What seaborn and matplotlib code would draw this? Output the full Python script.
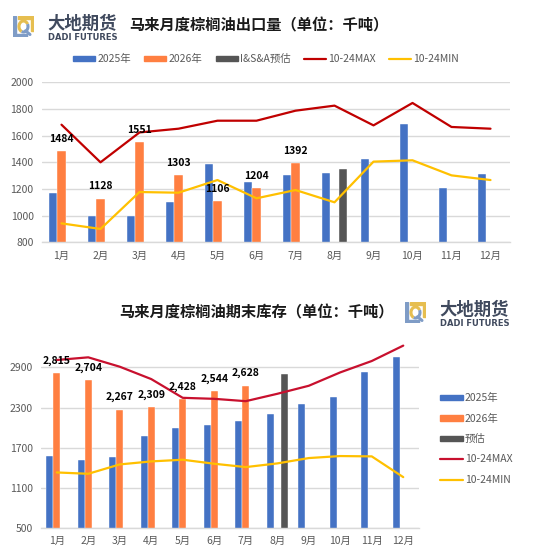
import numpy as np
import pandas as pd
import matplotlib
matplotlib.use("Agg")
import matplotlib.pyplot as plt
import matplotlib.patches as mpatches
from matplotlib.lines import Line2D
import seaborn as sns

sns.set_theme(style="white")
plt.rcParams['font.family'] = ['Noto Sans CJK SC', 'DejaVu Sans']

months = ["1月", "2月", "3月", "4月", "5月", "6月", "7月", "8月", "9月", "10月", "11月", "12月"]

# ---- Export data (top) ----
exp_2025 = [1170, 1000, 1000, 1100, 1385, 1255, 1307, 1320, 1422, 1690, 1207, 1312]
exp_2026 = [1484, 1128, 1551, 1303, 1106, 1204, 1392, None, None, None, None, None]
exp_est = [None, None, None, None, None, None, None, 1347, None, None, None, None]
exp_max = [1682, 1400, 1624, 1652, 1712, 1712, 1787, 1825, 1677, 1845, 1665, 1652]
exp_min = [942, 900, 1177, 1172, 1267, 1130, 1192, 1100, 1405, 1415, 1302, 1267]

# ---- Inventory data (bottom) ----
inv_2025 = [1575, 1515, 1555, 1875, 1990, 2035, 2105, 2200, 2355, 2460, 2835, 3050]
inv_2026 = [2815, 2704, 2267, 2309, 2428, 2544, 2628, None, None, None, None, None]
inv_est = [None, None, None, None, None, None, None, 2805, None, None, None, None]
inv_max = [3010, 3050, 2910, 2725, 2445, 2430, 2395, 2505, 2625, 2825, 2995, 3225]
inv_min = [1330, 1310, 1450, 1495, 1520, 1460, 1410, 1465, 1545, 1575, 1570, 1260]

top_series = ["2025年", "2026年", "I&S&A预估"]
bot_series = ["2025年", "2026年", "预估"]

BLUE = "#4472C4"
ORANGE = "#FF7F41"
DARK = "#555555"
RED_TOP = "#C00000"
RED_BOT = "#C8102E"
GOLD = "#FFC000"
GRID = "#D9D9D9"
TXT = "#595959"


def long_df(names, arrays):
    rows = []
    for name, arr in zip(names, arrays):
        for m, v in zip(months, arr):
            if v is not None:
                rows.append({"month": m, "series": name, "value": v})
    return pd.DataFrame(rows)


W, H = 550, 558
fig = plt.figure(figsize=(W / 100, H / 100), dpi=100)
fig.patch.set_facecolor("white")


def fx(px):
    return px / W


def fy(py):
    return 1 - py / H


def style_axes(ax, ymin, ymax, ticks):
    ax.set_ylim(ymin, ymax)
    ax.set_yticks(ticks)
    ax.set_xlim(-0.5, 11.5)
    ax.grid(axis="y", color=GRID, linewidth=1.0)
    ax.set_axisbelow(True)
    for s in ["top", "right", "left"]:
        ax.spines[s].set_visible(False)
    ax.spines["bottom"].set_color(GRID)
    ax.spines["bottom"].set_linewidth(1.0)
    ax.tick_params(axis="both", length=0, labelsize=7.5, colors=TXT, pad=6)
    ax.set_xlabel("")
    ax.set_ylabel("")
    leg = ax.get_legend()
    if leg is not None:
        leg.remove()


LOGO_BLUE = "#7F9CC6"
LOGO_GOLD = "#E6BE50"


def draw_logo(x0, y0):
    # x0, y0: top-left of icon in pixels; icon ~21x21 px
    ax_l = fig.add_axes([fx(x0), fy(y0 + 21), fx(21), 21 / H])
    ax_l.set_xlim(0, 21)
    ax_l.set_ylim(0, 21)
    ax_l.axis("off")
    ax_l.add_patch(mpatches.Polygon([[0, 21], [3, 21], [3, 3], [14, 3], [14, 0], [0, 0]],
                                    closed=True, color=LOGO_BLUE))
    ax_l.add_patch(mpatches.Polygon([[5, 21], [21, 21], [21, 6], [18, 6], [18, 18], [5, 18]],
                                    closed=True, color=LOGO_GOLD))
    ax_l.add_patch(mpatches.Arc((10.5, 10.5), 9, 11, theta1=30, theta2=250, lw=2.2, color=LOGO_GOLD))
    ax_l.add_patch(mpatches.Arc((10.5, 10.5), 9, 11, theta1=250, theta2=390, lw=2.2, color=LOGO_BLUE))
    ax_l.plot([12.5, 17], [6.2, 2.5], color=LOGO_BLUE, lw=2.2)
    fig.text(fx(x0 + 34), fy(y0 + 8), "大地期货", fontsize=12.5, fontweight="bold",
             color="#404A5E", va="center", ha="left")
    fig.text(fx(x0 + 35), fy(y0 + 22), "DADI FUTURES", fontsize=6.0, fontweight="bold",
             color="#404A5E", va="center", ha="left", family=["DejaVu Sans"])


# ================= TOP CHART =================
ax1 = fig.add_axes([fx(42), fy(242.3), fx(510) - fx(42), fy(82.3) - fy(242.3)])
df_top = long_df(top_series, [exp_2025, exp_2026, exp_est])
sns.barplot(data=df_top, x="month", y="value", hue="series", order=months,
            hue_order=top_series, palette=[BLUE, ORANGE, DARK], width=0.66,
            errorbar=None, ax=ax1, saturation=1, edgecolor="white", linewidth=0.3)
xpos = np.arange(len(months))
sns.lineplot(x=xpos, y=exp_max, color=RED_TOP, linewidth=1.6, ax=ax1)
sns.lineplot(x=xpos, y=exp_min, color=GOLD, linewidth=1.6, ax=ax1)
style_axes(ax1, 800, 2000, [800, 1000, 1200, 1400, 1600, 1800, 2000])
ax1.set_xticks(xpos)
ax1.set_xticklabels(months)
for i, v in enumerate(exp_2026):
    if v is not None:
        ax1.annotate(f"{v}", (i, v), xytext=(0, 9), textcoords="offset points",
                     ha="center", va="center", fontsize=7.5, fontweight="bold", color="black")

handles_top = [
    mpatches.Patch(color=BLUE, label="2025年"),
    mpatches.Patch(color=ORANGE, label="2026年"),
    mpatches.Patch(color=DARK, label="I&S&A预估"),
    Line2D([], [], color=RED_TOP, lw=1.6, label="10-24MAX"),
    Line2D([], [], color=GOLD, lw=1.6, label="10-24MIN"),
]
fig.legend(handles=handles_top, loc="center", bbox_to_anchor=(fx(266), fy(59)), ncol=5,
           frameon=False, fontsize=7.5, labelcolor=TXT, handlelength=2.1, handleheight=0.45,
           handletextpad=0.2, columnspacing=1.3, borderpad=0, borderaxespad=0)

fig.text(fx(259), fy(25), "马来月度棕榈油出口量（单位：千吨）", fontsize=11, fontweight="bold",
         color="#1a1a1a", ha="center", va="center")
draw_logo(13, 16)

# ================= BOTTOM CHART =================
ax2 = fig.add_axes([fx(41), fy(528), fx(419) - fx(41), fy(340.6) - fy(528)])
df_bot = long_df(bot_series, [inv_2025, inv_2026, inv_est])
sns.barplot(data=df_bot, x="month", y="value", hue="series", order=months,
            hue_order=bot_series, palette=[BLUE, ORANGE, DARK], width=0.66,
            errorbar=None, ax=ax2, saturation=1, edgecolor="white", linewidth=0.3)
sns.lineplot(x=xpos, y=inv_max, color=RED_BOT, linewidth=1.6, ax=ax2)
sns.lineplot(x=xpos, y=inv_min, color=GOLD, linewidth=1.6, ax=ax2)
style_axes(ax2, 500, 3300, [500, 1100, 1700, 2300, 2900])
ax2.set_xticks(xpos)
ax2.set_xticklabels(months)
for i, v in enumerate(inv_2026):
    if v is not None:
        ax2.annotate(f"{v:,}", (i, v), xytext=(0, 9), textcoords="offset points",
                     ha="center", va="center", fontsize=7.5, fontweight="bold", color="black")

handles_bot = [
    mpatches.Patch(color=BLUE, label="2025年"),
    mpatches.Patch(color=ORANGE, label="2026年"),
    mpatches.Patch(color=DARK, label="预估"),
    Line2D([], [], color=RED_BOT, lw=1.6, label="10-24MAX"),
    Line2D([], [], color=GOLD, lw=1.6, label="10-24MIN"),
]
fig.legend(handles=handles_bot, loc="upper left", bbox_to_anchor=(fx(440), fy(393)), ncol=1,
           frameon=False, fontsize=7.5, labelcolor=TXT, handlelength=2.2, handleheight=0.45,
           handletextpad=0.2, labelspacing=1.0, borderaxespad=0, borderpad=0)

fig.text(fx(256), fy(312), "马来月度棕榈油期末库存（单位：千吨）", fontsize=11, fontweight="bold",
         color="#1a1a1a", ha="center", va="center")
draw_logo(405, 302)

fig.savefig("out.png", dpi=100, facecolor="white")
